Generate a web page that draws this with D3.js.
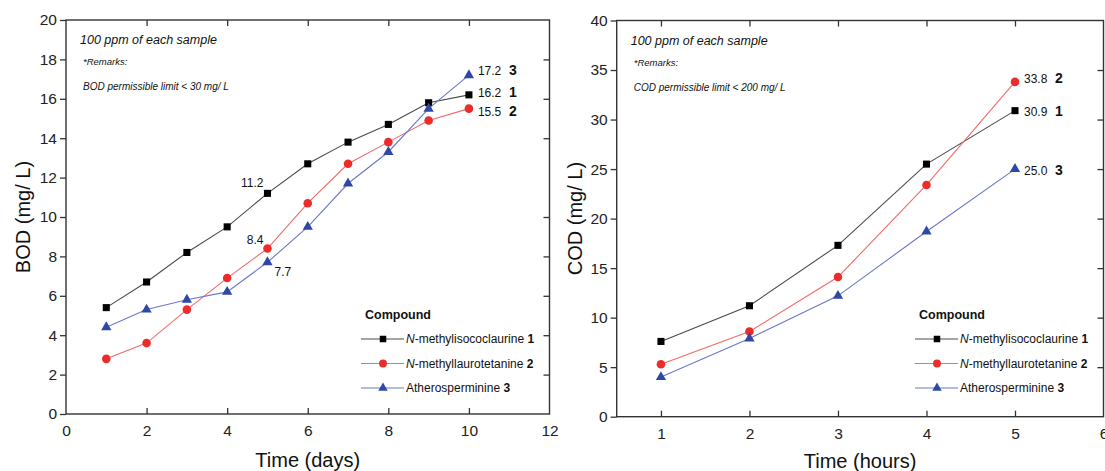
<!DOCTYPE html>
<html>
<head>
<meta charset="utf-8">
<script src="https://cdn.jsdelivr.net/npm/d3@7"></script>
<style>
  html, body { margin: 0; padding: 0; background: #fff; }
  svg { display: block; font-family: "Liberation Sans", Arial, sans-serif; }
</style>
</head>
<body>
<svg id="chart" width="1105" height="471"></svg>
<script>
// ---- BOD panel data (days) ----
const days = [1, 2, 3, 4, 5, 6, 7, 8, 9, 10];
const bodCompound1 = [5.4, 6.7, 8.2, 9.5, 11.2, 12.7, 13.8, 14.7, 15.8, 16.2];
const bodCompound2 = [2.8, 3.6, 5.3, 6.9, 8.4, 10.7, 12.7, 13.8, 14.9, 15.5];
const bodCompound3 = [4.4, 5.3, 5.8, 6.2, 7.7, 9.5, 11.7, 13.3, 15.5, 17.2];
const bodXTicks = [0, 2, 4, 6, 8, 10, 12];
const bodYTicks = [0, 2, 4, 6, 8, 10, 12, 14, 16, 18, 20];

// ---- COD panel data (hours) ----
const hours = [1, 2, 3, 4, 5];
const codCompound1 = [7.6, 11.2, 17.3, 25.5, 30.9];
const codCompound2 = [5.3, 8.6, 14.1, 23.4, 33.8];
const codCompound3 = [4.0, 7.9, 12.2, 18.7, 25.0];
const codXTicks = [1, 2, 3, 4, 5, 6];
const codYTicks = [0, 5, 10, 15, 20, 25, 30, 35, 40];

// ---- shared legend text ----
const compoundPrefix = ["N", "N", ""];
const compoundNames = ["-methylisococlaurine ", "-methyllaurotetanine ", "Atherosperminine "];
const compoundNumbers = ["1", "2", "3"];

// series styling: line colour, marker colour, marker symbol
const seriesStyle = [
  { line: "#4a4a4a", fill: "#000000", symbol: d3.symbolSquare, size: 50 },
  { line: "#f26a6a", fill: "#ec2b2b", symbol: d3.symbolCircle, size: 58 },
  { line: "#6a78c6", fill: "#2f48a6", symbol: d3.symbolTriangle, size: 46 }
];

const svg = d3.select("#chart");

function drawPanel(opt) {
  const g = svg.append("g");
  const x = d3.scaleLinear().domain(opt.xDomain).range([opt.left, opt.right]);
  const y = d3.scaleLinear().domain(opt.yDomain).range([opt.bottom, opt.top]);

  // axes: left ticks outward, bottom ticks inward, mirrored inward ticks on top/right
  const axL = g.append("g").attr("transform", `translate(${opt.left},0)`)
    .call(d3.axisLeft(y).tickValues(opt.yTicks).tickSize(6).tickPadding(3).tickFormat(d3.format("d")));
  const axB = g.append("g").attr("transform", `translate(0,${opt.bottom})`)
    .call(d3.axisBottom(x).tickValues(opt.xTicks).tickSize(-6).tickPadding(11).tickFormat(d3.format("d")));
  const axT = g.append("g").attr("transform", `translate(0,${opt.top})`)
    .call(d3.axisTop(x).tickValues(opt.xTicks).tickSize(-6).tickFormat(""));
  const axR = g.append("g").attr("transform", `translate(${opt.right},0)`)
    .call(d3.axisRight(y).tickValues(opt.yTicks).tickSize(-6).tickFormat(""));
  [axL, axB, axT, axR].forEach(a => {
    a.select(".domain").remove();
    a.selectAll(".tick line").attr("stroke", "#333").attr("stroke-width", 1.3);
    a.selectAll(".tick text").attr("font-size", 15.5).attr("fill", "#222")
      .attr("font-family", "Liberation Sans, Arial, sans-serif");
  });
  // drop mirrored ticks sitting on the frame corners
  [axT, axR, axB].forEach(a => a.selectAll(".tick line").filter(function () {
    const t = d3.select(this.parentNode).datum();
    return t === opt.xDomain[0] || t === opt.xDomain[1] || t === opt.yDomain[0] || t === opt.yDomain[1];
  }).remove());

  g.append("rect")
    .attr("x", opt.left).attr("y", opt.top)
    .attr("width", opt.right - opt.left).attr("height", opt.bottom - opt.top)
    .attr("fill", "none").attr("stroke", "#333").attr("stroke-width", 1.4);

  // axis titles
  g.append("text")
    .attr("x", (opt.left + opt.right) / 2).attr("y", opt.xTitleY)
    .attr("text-anchor", "middle").attr("font-size", 20).attr("fill", "#111")
    .text(opt.xTitle);
  g.append("text")
    .attr("transform", `translate(${opt.yTitleX},${(opt.top + opt.bottom) / 2}) rotate(-90)`)
    .attr("text-anchor", "middle").attr("font-size", 20).attr("fill", "#111")
    .text(opt.yTitle);

  // remarks
  const note = g.append("g").attr("font-style", "italic").attr("fill", "#111");
  note.append("text").attr("x", opt.left + 14).attr("y", opt.top + 24).attr("font-size", 12.5).text("100 ppm of each sample");
  note.append("text").attr("x", opt.left + 17).attr("y", opt.top + 45).attr("font-size", 9.5).text("*Remarks:");
  note.append("text").attr("x", opt.left + 17).attr("y", opt.top + 70).attr("font-size", 10).text(opt.limitText);

  // series lines and markers
  const line = d3.line().x(d => x(d[0])).y(d => y(d[1]));
  opt.series.forEach((vals, i) => {
    const pts = opt.xs.map((xv, j) => [xv, vals[j]]);
    const st = seriesStyle[i];
    g.append("path").datum(pts).attr("d", line)
      .attr("fill", "none").attr("stroke", st.line).attr("stroke-width", 1.1);
    g.selectAll(null).data(pts).enter().append("path")
      .attr("transform", d => `translate(${x(d[0])},${y(d[1])})`)
      .attr("d", d3.symbol().type(st.symbol).size(st.size))
      .attr("fill", st.fill);
  });

  // end-of-series value labels with compound number
  opt.endLabels.forEach(lb => {
    const vals = opt.series[lb.s];
    const idx = vals.length - 1;
    const px = x(opt.xs[idx]), py = y(vals[idx]);
    const t = g.append("text").attr("x", px + 9).attr("y", py + lb.dy).attr("dy", "0.35em").attr("fill", "#111");
    t.append("tspan").attr("font-size", 12).text(d3.format(".1f")(vals[idx]));
    t.append("tspan").attr("x", px + 40).attr("font-size", 14).attr("font-weight", "bold").text(compoundNumbers[lb.s]);
  });

  // mid-series value labels
  (opt.midLabels || []).forEach(lb => {
    const v = opt.series[lb.s][lb.i];
    const px = x(opt.xs[lb.i]), py = y(v);
    g.append("text").attr("x", px + lb.dx).attr("y", py + lb.dy)
      .attr("text-anchor", lb.anchor).attr("font-size", 12).attr("fill", "#111")
      .text(d3.format(".1f")(v));
  });

  // legend
  const lg = g.append("g").attr("transform", `translate(${opt.legendX},${opt.legendY})`);
  lg.append("text").attr("x", 4).attr("y", 0).attr("font-size", 12.5).attr("font-weight", "bold").attr("fill", "#111").text("Compound");
  compoundNames.forEach((name, i) => {
    const ry = 20 + i * 24.5;
    const st = seriesStyle[i];
    lg.append("line").attr("x1", 0).attr("x2", 43).attr("y1", ry).attr("y2", ry)
      .attr("stroke", st.line).attr("stroke-width", 1.1);
    lg.append("path").attr("transform", `translate(22,${ry})`)
      .attr("d", d3.symbol().type(st.symbol).size(st.size * 0.85)).attr("fill", st.fill);
    const t = lg.append("text").attr("x", 45).attr("y", ry).attr("dy", "0.35em").attr("font-size", 12).attr("fill", "#111");
    if (compoundPrefix[i]) t.append("tspan").attr("font-style", "italic").text(compoundPrefix[i]);
    t.append("tspan").text(name);
    t.append("tspan").attr("font-weight", "bold").text(compoundNumbers[i]);
  });
}

drawPanel({
  left: 66, right: 549.5, top: 20, bottom: 414,
  xDomain: [0, 12], yDomain: [0, 20],
  xTicks: bodXTicks, yTicks: bodYTicks,
  xs: days, series: [bodCompound1, bodCompound2, bodCompound3],
  xTitle: "Time (days)", xTitleY: 467,
  yTitle: "BOD (mg/ L)", yTitleX: 30,
  limitText: "BOD permissible limit < 30 mg/ L",
  endLabels: [{ s: 2, dy: -6 }, { s: 0, dy: -3 }, { s: 1, dy: 2 }],
  midLabels: [
    { s: 0, i: 4, dx: -4, dy: -6, anchor: "end" },
    { s: 1, i: 4, dx: -4, dy: -5, anchor: "end" },
    { s: 2, i: 4, dx: 7, dy: 14, anchor: "start" }
  ],
  legendX: 361, legendY: 319
});

drawPanel({
  left: 616.7, right: 1103.5, top: 20.5, bottom: 416.7,
  xDomain: [0.5, 6], yDomain: [0, 40],
  xTicks: codXTicks, yTicks: codYTicks,
  xs: hours, series: [codCompound1, codCompound2, codCompound3],
  xTitle: "Time (hours)", xTitleY: 468,
  yTitle: "COD (mg/ L)", yTitleX: 582,
  limitText: "COD permissible limit < 200 mg/ L",
  endLabels: [{ s: 1, dy: -5 }, { s: 0, dy: 0 }, { s: 2, dy: 0 }],
  midLabels: [],
  legendX: 915, legendY: 319
});
</script>
</body>
</html>
